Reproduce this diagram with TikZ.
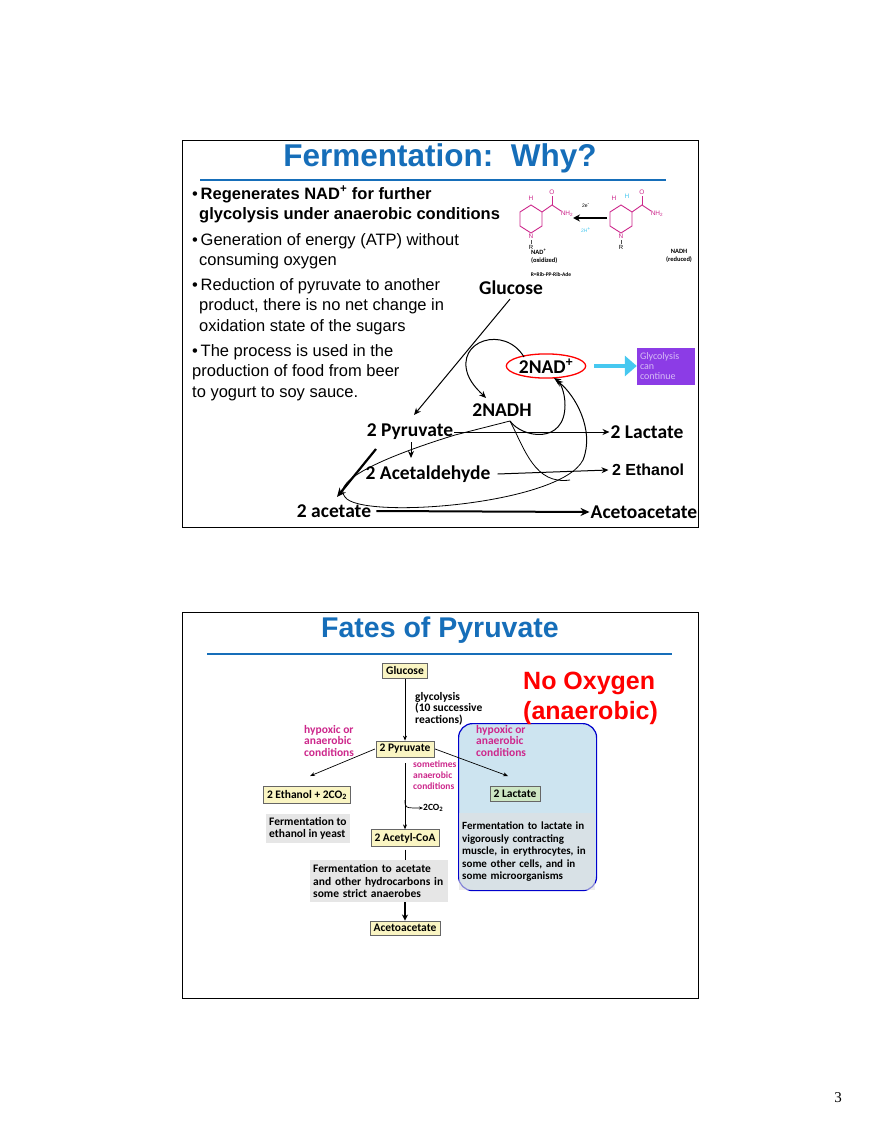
\documentclass[tikz,border=0pt]{standalone}
\usepackage{fontspec}
\setmainfont{Liberation Sans}
\newfontfamily\carl{Carlito}
\newfontfamily\serifpg{Liberation Serif}
\usetikzlibrary{arrows.meta,shapes.geometric}
\definecolor{ttl}{RGB}{22,110,185}
\definecolor{mag}{RGB}{205,40,140}
\definecolor{ybox}{RGB}{250,245,195}
\definecolor{gbox}{RGB}{230,230,230}
\definecolor{lbox}{RGB}{205,230,195}
\definecolor{bluebg}{RGB}{205,228,240}
\definecolor{purp}{RGB}{140,60,230}
\definecolor{cyanA}{RGB}{70,200,240}
\begin{document}
\begin{tikzpicture}[x=1pt,y=-1pt,
  bul/.style={anchor=north west,align=left,font=\fontsize{16.5}{20.5}\selectfont,inner sep=0},
  lab/.style={font=\carl\bfseries\fontsize{19.5}{21}\selectfont,inner sep=1},
  arr/.style={-{Stealth[length=7,width=6]},line width=1},
  ybx/.style={draw=black!60,fill=ybox,font=\carl\bfseries\fontsize{11.5}{13}\selectfont,inner sep=3.5},
  gtx/.style={fill=gbox,font=\carl\bfseries\fontsize{11.5}{12.5}\selectfont,align=left,anchor=north west,inner sep=3},
  mtx/.style={text=mag,font=\carl\bfseries\fontsize{11.5}{11.5}\selectfont,align=left,anchor=north west,inner sep=0},
  sarr/.style={-{Stealth[length=5,width=4]},line width=0.7},
  chm/.style={text=mag,font=\fontsize{6.5}{6.5}\selectfont,inner sep=0}]
\useasboundingbox (0,0) rectangle (880,1139);
\fill[white] (0,0) rectangle (880,1139);
% ---- slide 1
\draw[line width=0.8] (182,140) rectangle (698,527);
\node[text=ttl,font=\bfseries\fontsize{31.5}{33}\selectfont] (t1) at (440,158) {Fermentation:\ \ Why?};
\draw[ttl,line width=1.2] (200,180) -- (666,180);
\node[bul] (b1) at (192,186) {\textbullet\,\textbf{Regenerates NAD\textsuperscript{+} for further}\\\hspace*{7pt}\textbf{glycolysis under anaerobic conditions}};
\node[bul] (b2) at (192,233) {\textbullet\,Generation of energy (ATP) without\\\hspace*{7pt}consuming oxygen};
\node[bul] (b3) at (192,278) {\textbullet\,Reduction of pyruvate to another\\\hspace*{7pt}product, there is no net change in\\\hspace*{7pt}oxidation state of the sugars};
\node[bul] (b4) at (192,344) {\textbullet\,The process is used in the\\production of food from beer\\to yogurt to soy sauce.};
% chemistry
\foreach \cx/\nm in {531/A,621/B}{
  \draw[mag,line width=0.9] (\cx-11,212) -- (\cx,205) -- (\cx+11,212) -- (\cx+11,226) -- (\cx,233) -- (\cx-11,226) -- cycle;
  \draw[mag,line width=0.9] (\cx+11,212) -- (\cx+21,205) -- (\cx+30,211);
  \draw[mag,line width=0.9] (\cx+21,205) -- (\cx+21,196);
  \node[chm] (o\nm) at (\cx+21,192) {O};
  \node[chm] (nh\nm) at (\cx+36,214) {NH\textsubscript{2}};
  \node[chm] (n\nm) at (\cx,236) {N};
  \draw[black!70,line width=0.5] (\cx,240) -- (\cx,244);
  \node[font=\fontsize{6}{6}\selectfont,inner sep=0] (r\nm) at (\cx,247) {R};
}
\node[chm] (h1) at (531,198) {H};
\node[chm] (h2) at (614,198) {H};
\node[chm,text=cyanA] (h3) at (627,196) {H};
\coordinate (ca) at (607,218); \coordinate (cb) at (573,218);
\draw[-{Stealth[length=7,width=7]},line width=1.8] (ca) -- (cb);
\node[font=\fontsize{5}{5}\selectfont,inner sep=0] (e2) at (586,206) {2e\textsuperscript{-}};
\node[text=cyanA,font=\fontsize{5}{5}\selectfont,inner sep=0] (h2p) at (586,230) {2H\textsuperscript{+}};
\node[font=\carl\bfseries\fontsize{6.5}{8}\selectfont,align=left,anchor=north west,inner sep=0] (nadl) at (531,249) {NAD\textsuperscript{+}\\(oxidized)};
\node[font=\carl\bfseries\fontsize{6.5}{8}\selectfont,align=center,anchor=north,inner sep=0] (nadhl) at (679,249) {NADH\\(reduced)};
\node[font=\carl\bfseries\fontsize{5.5}{6}\selectfont,inner sep=0] (rl) at (551,275) {R=Rib-PP-Rib-Ade};
% pathway
\node[lab] (glc) at (511,288) {Glucose};
\node[lab,draw=red,line width=1.3,ellipse,inner sep=1] (nad) at (546,366) {2NAD\textsuperscript{+}};
\node[fill=purp,text=purp!35!white,font=\carl\fontsize{10}{10}\selectfont,align=left,minimum width=58,minimum height=37,text width=52,inner sep=3] (gly) at (666,366) {Glycolysis\\can\\continue};
\draw[cyanA,line width=4,-{Triangle[length=12,width=20]}] (nad.east)++(8,0) -- (gly.west);
\node[lab] (nadh) at (502,410) {2NADH};
\node[lab] (pyr) at (410,432) {2 Pyruvate};
\node[lab] (lac) at (647,432) {2 Lactate};
\node[lab] (ald) at (428,474) {2 Acetaldehyde};
\node[font=\bfseries\fontsize{16}{17}\selectfont] (eth) at (648,470) {2 Ethanol};
\node[lab] (ace) at (334,511) {2 acetate};
\node[lab] (aca) at (644,512) {Acetoacetate};
\draw[arr] (glc.south) ++(-1,3) -- (414,415);
\draw[arr] (pyr.east) -- (lac.west);
\draw[arr] (ald.east)++(6,0) -- (eth.west);
\draw[-{Stealth[length=9,width=8]},line width=2] (ace.east)++(4,0) -- (aca.west);
\draw[arr] (411,442) -- (411,458);
\draw[-{Stealth[length=9,width=8]},line width=2.2] (376,449) -- (337,497);
\draw[arr] (524,357) .. controls (505,325) and (455,340) .. (468,375) .. controls (472,385) and (480,392) .. (486,398);
\draw[arr] (510,421) .. controls (522,438) and (565,445) .. (565,405) .. controls (565,392) and (560,382) .. (554,378);
\draw[line width=0.8] (510,421) -- (455,435) .. controls (390,455) and (330,480) .. (345,497) .. controls (360,520) and (560,505) .. (583,460);
\draw[arr] (583,460) .. controls (595,430) and (575,395) .. (556,380);
\draw[line width=0.8] (510,421) .. controls (525,450) and (535,485) .. (570,480);
% ---- slide 2
\draw[line width=0.8] (182,612) rectangle (698,998);
\node[text=ttl,font=\bfseries\fontsize{28.5}{30}\selectfont] (t2) at (440,630) {Fates of Pyruvate};
\draw[ttl,line width=2] (207,654) -- (672,654);
\node[draw=blue!80!black,line width=1.2,fill=bluebg,rounded corners=14,minimum width=138,minimum height=167,anchor=north west,inner sep=0] (bb) at (458,723) {};
\node[text=red,font=\bfseries\fontsize{25}{30}\selectfont,align=left,anchor=north west,inner sep=0] (no) at (523,672) {No Oxygen\\(anaerobic)};
\node[ybx] (g2) at (405,671) {Glucose};
\node[ybx] (p2) at (405,749) {2 Pyruvate};
\node[ybx] (e2b) at (307,795) {2 Ethanol + 2CO\textsubscript{2}};
\node[ybx,fill=lbox] (l2) at (515,794) {2 Lactate};
\node[ybx] (ac2) at (405,838) {2 Acetyl-CoA};
\node[ybx] (aa2) at (405,928) {Acetoacetate};
\node[gtx] (f1) at (266,814) {Fermentation to\\ethanol in yeast};
\node[gtx,text width=132,minimum height=42] (f2) at (310,860) {Fermentation to acetate\\and other hydrocarbons in\\some strict anaerobes};
\node[gtx,fill=black!12,fill opacity=0.6,text opacity=1,text width=130,minimum height=77,font=\carl\bfseries\fontsize{11}{12.5}\selectfont] (f3) at (459,813) {Fermentation to lactate in\\vigorously contracting\\muscle, in erythrocytes, in\\some other cells, and in\\some microorganisms};
\node[font=\carl\bfseries\fontsize{11.5}{11.5}\selectfont,align=left,anchor=north west,inner sep=0] (gl) at (415,692) {glycolysis\\(10 successive\\reactions)};
\node[mtx] (m1) at (304,725) {hypoxic or\\anaerobic\\conditions};
\node[mtx] (m2) at (476,725) {hypoxic or\\anaerobic\\conditions};
\node[mtx,font=\carl\bfseries\fontsize{9.5}{11}\selectfont] (m3) at (413,761) {sometimes\\anaerobic\\conditions};
\draw[sarr] (g2.south) -- (p2.north);
\draw[sarr] (p2.west)++(-1,0) -- (310,776);
\draw[sarr] (p2.east)++(1,0) -- (508,776);
\draw[sarr] (p2.south)++(0,6) -- (ac2.north);
\coordinate (cb2) at (405,800);
\node[font=\carl\bfseries\fontsize{9.5}{10}\selectfont,inner sep=0,anchor=west] (co2) at (423,808) {2CO\textsubscript{2}};
\draw[sarr,-{Stealth[length=4,width=3]}] (cb2) .. controls (405,808) .. (co2.west);
\draw[line width=0.8] (ac2.south)++(0,3) -- (405,860);
\draw[-{Stealth[length=6,width=6]},line width=2] (f2.south -| aa2) -- (aa2.north);
\node[font=\serifpg\fontsize{15}{17}\selectfont] (pg) at (838,1098) {3};
\end{tikzpicture}
\end{document}
